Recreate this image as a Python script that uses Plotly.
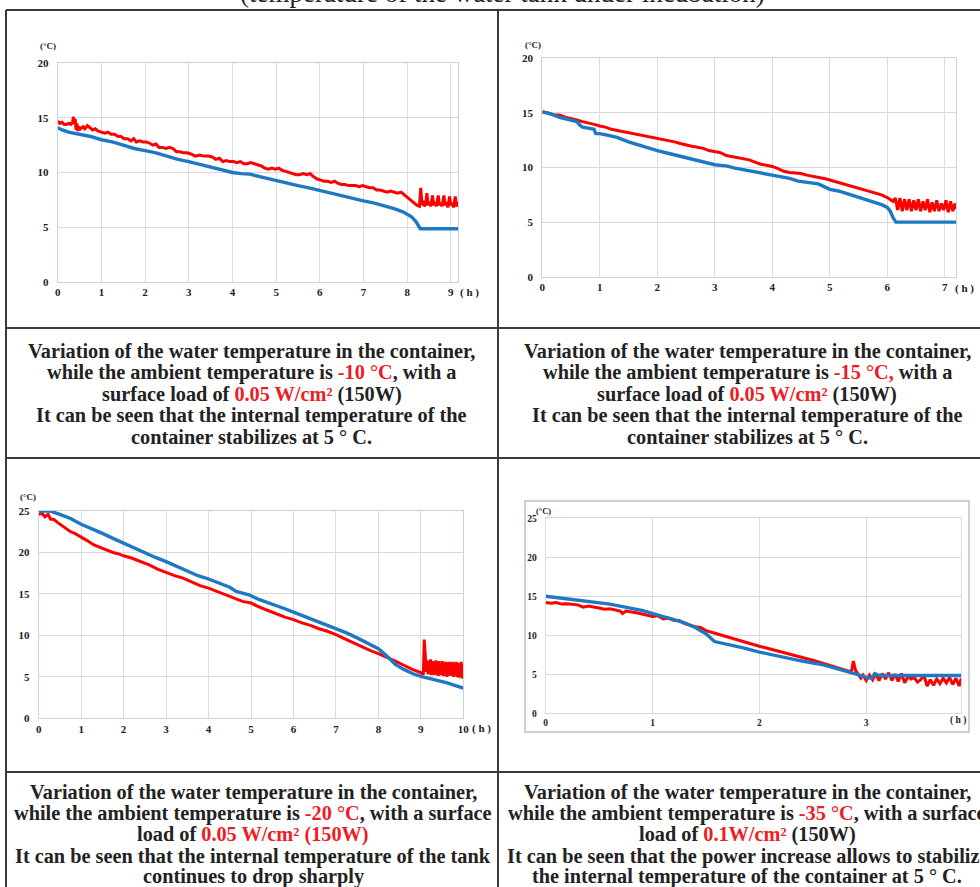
import plotly.graph_objects as go

W, H = 980, 887
RED = "#ff0000"
BLUE = "#1f78c4"
TXT = "#222222"
CAPRED = "#ee1c24"

# ---------------- data ----------------
# Chart 1 : ambient -10 C
c1_red_t = [0.00, 0.05, 0.10, 0.15, 0.20, 0.25, 0.30, 0.34, 0.36, 0.38, 0.40, 0.42, 0.44, 0.46, 0.48,
            0.52, 0.58, 0.62, 0.68, 0.74, 0.80, 0.86, 0.92, 1.00, 1.08, 1.15, 1.22, 1.30, 1.38, 1.45,
            1.52, 1.60, 1.68, 1.74, 1.80, 1.88, 1.95, 2.02, 2.10, 2.18, 2.25, 2.32, 2.40, 2.48, 2.56,
            2.64, 2.72, 2.80, 2.88, 2.96, 3.05, 3.15, 3.25, 3.35, 3.45, 3.55, 3.62, 3.70, 3.78, 3.86,
            3.94, 4.02, 4.10, 4.18, 4.26, 4.34, 4.42, 4.50, 4.58, 4.66, 4.74, 4.82, 4.90, 4.98, 5.06,
            5.14, 5.22, 5.30, 5.38, 5.46, 5.54, 5.62, 5.70, 5.78, 5.86, 5.94, 6.02, 6.10, 6.18, 6.26,
            6.34, 6.42, 6.50, 6.58, 6.66, 6.74, 6.82, 6.90, 6.98, 7.06, 7.14, 7.22, 7.30, 7.38, 7.46,
            7.54, 7.62, 7.70, 7.78, 7.86, 7.92, 7.98, 8.04, 8.10, 8.16, 8.22, 8.28,
            8.31, 8.34, 8.37, 8.40, 8.43, 8.45, 8.48, 8.51, 8.54, 8.58, 8.61, 8.64, 8.67, 8.71, 8.74,
            8.77, 8.80, 8.84, 8.87, 8.90, 8.93, 8.97, 9.00, 9.03, 9.06, 9.10, 9.13, 9.17]
c1_red_v = [14.7, 14.5, 14.6, 14.4, 14.4, 14.5, 14.4, 14.6, 15.1, 14.4, 14.9, 13.9, 14.5, 13.8, 14.2,
            14.0, 14.2, 14.0, 14.3, 14.1, 13.9, 14.0, 13.8, 13.7, 13.6, 13.7, 13.5, 13.5, 13.3, 13.3,
            13.1, 13.1, 12.9, 13.1, 12.8, 12.9, 12.8, 12.8, 12.7, 12.5, 12.6, 12.3, 12.3, 12.2, 12.3,
            12.2, 11.9, 11.9, 11.8, 11.8, 11.7, 11.5, 11.6, 11.5, 11.5, 11.4, 11.2, 11.3, 11.0, 11.1,
            11.0, 11.0, 10.9, 11.0, 10.8, 10.8, 10.9, 10.8, 10.7, 10.6, 10.4, 10.3, 10.4, 10.3, 10.4,
            10.2, 10.1, 10.0, 9.9, 9.8, 9.8, 9.9, 9.8, 9.9, 9.6, 9.4, 9.3, 9.2, 9.2, 9.1,
            9.2, 9.0, 8.9, 8.9, 8.8, 8.8, 8.8, 8.7, 8.8, 8.7, 8.6, 8.6, 8.4, 8.4, 8.3,
            8.2, 8.3, 8.2, 8.1, 8.2, 8.0, 7.8, 7.6, 7.4, 7.2, 7.0, 6.9,
            8.6, 7.0, 7.4, 6.9, 7.2, 8.1, 7.0, 7.3, 6.9, 7.9, 7.0, 7.3, 6.9, 7.9, 7.0,
            7.2, 6.9, 7.9, 7.0, 7.3, 6.8, 7.8, 7.0, 7.2, 6.8, 7.8, 6.9, 7.3]
c1_blue_t = [0.0, 0.1, 0.25, 0.5, 0.75, 1.0, 1.25, 1.5, 1.75, 2.0, 2.25, 2.5, 2.75, 3.0, 3.25, 3.5,
             3.75, 4.0, 4.2, 4.4, 4.6, 4.8, 5.0, 5.25, 5.5, 5.75, 6.0, 6.25, 6.5, 6.75, 7.0, 7.25,
             7.5, 7.7, 7.9, 8.0, 8.1, 8.2, 8.3, 9.17]
c1_blue_v = [14.1, 13.9, 13.7, 13.5, 13.3, 13.0, 12.8, 12.5, 12.2, 12.0, 11.8, 11.5, 11.2, 11.0, 10.75, 10.5,
             10.3, 10.0, 9.9, 9.85, 9.65, 9.45, 9.25, 9.0, 8.8, 8.6, 8.35, 8.1, 7.9, 7.65, 7.4, 7.2,
             6.95, 6.7, 6.4, 6.2, 5.95, 5.5, 4.85, 4.85]

# Chart 2 : ambient -15 C
c2_red_t = [0.0, 0.1, 0.2, 0.3, 0.4, 0.5, 0.6, 0.7, 0.8, 0.9, 1.0, 1.1, 1.2, 1.3, 1.4, 1.5, 1.6, 1.7,
            1.8, 1.9, 2.0, 2.1, 2.2, 2.3, 2.4, 2.5, 2.6, 2.7, 2.8, 2.9, 3.0, 3.1, 3.2, 3.3, 3.4, 3.5,
            3.6, 3.7, 3.8, 3.9, 4.0, 4.1, 4.2, 4.3, 4.4, 4.5, 4.6, 4.7, 4.8, 4.9, 5.0, 5.1, 5.2, 5.3,
            5.4, 5.5, 5.6, 5.7, 5.8, 5.9, 6.0, 6.1,
            6.14, 6.18, 6.22, 6.26, 6.30, 6.34, 6.38, 6.42, 6.46, 6.50, 6.54, 6.58, 6.62, 6.66, 6.70,
            6.74, 6.78, 6.82, 6.86, 6.90, 6.94, 6.98, 7.02, 7.06, 7.10, 7.14, 7.18, 7.20]
c2_red_v = [15.1, 15.0, 14.8, 14.8, 14.6, 14.5, 14.35, 14.2, 14.1, 13.95, 13.8, 13.7, 13.5, 13.4, 13.3,
            13.2, 13.05, 12.95, 12.9, 12.8, 12.65, 12.6, 12.45, 12.35, 12.2, 12.05, 11.95, 11.85, 11.75,
            11.55, 11.45, 11.35, 11.1, 11.0, 10.85, 10.75, 10.7, 10.5, 10.3, 10.2, 10.1, 9.9, 9.65, 9.55,
            9.5, 9.45, 9.3, 9.2, 9.15, 9.0, 8.85, 8.7, 8.6, 8.45, 8.3, 8.15, 8.0, 7.85, 7.7, 7.5, 7.25, 6.9,
            7.2, 6.1, 7.2, 6.0, 7.1, 6.1, 7.1, 6.0, 7.0, 6.1, 7.1, 6.0, 6.9, 6.1, 7.1,
            5.9, 6.8, 6.0, 7.0, 6.0, 6.7, 6.1, 7.0, 5.9, 6.9, 6.0, 6.7, 6.2]
c2_blue_t = [0.0, 0.15, 0.3, 0.45, 0.6, 0.65, 0.7, 0.8, 0.9, 0.93, 1.0, 1.15, 1.3, 1.5, 1.7, 1.85, 2.0,
             2.15, 2.3, 2.45, 2.6, 2.75, 2.9, 3.0, 3.1, 3.2, 3.35, 3.5, 3.65, 3.8, 4.0, 4.15, 4.3, 4.45,
             4.6, 4.8, 4.9, 5.0, 5.15, 5.3, 5.45, 5.6, 5.75, 5.9, 6.0, 6.05, 6.1, 6.15, 7.2]
c2_blue_v = [15.1, 14.9, 14.6, 14.4, 14.2, 13.9, 13.7, 13.6, 13.5, 13.1, 13.1, 12.95, 12.75, 12.35, 12.0,
             11.8, 11.55, 11.35, 11.15, 10.95, 10.75, 10.55, 10.4, 10.25, 10.2, 10.15, 9.95, 9.8, 9.65,
             9.5, 9.3, 9.15, 9.0, 8.75, 8.65, 8.5, 8.25, 8.0, 7.85, 7.6, 7.4, 7.15, 6.85, 6.6, 6.35,
             6.0, 5.4, 5.0, 5.0]

# Chart 3 : ambient -20 C
c3_red_t = [0.0, 0.08, 0.15, 0.22, 0.28, 0.35, 0.45, 0.55, 0.65, 0.75, 0.85, 1.0, 1.15, 1.3, 1.45, 1.6,
            1.75, 1.9, 2.0, 2.2, 2.4, 2.6, 2.8, 3.0, 3.2, 3.4, 3.6, 3.8, 4.0, 4.2, 4.4, 4.6, 4.8, 5.0,
            5.2, 5.4, 5.6, 5.8, 6.0, 6.2, 6.4, 6.6, 6.8, 7.0, 7.2, 7.4, 7.6, 7.8, 8.0, 8.2, 8.4, 8.6,
            8.8, 9.0, 9.06, 9.08, 9.11,
            9.13, 9.15, 9.17, 9.19, 9.21, 9.23, 9.25, 9.27, 9.29, 9.31, 9.33, 9.35, 9.37, 9.39, 9.41,
            9.43, 9.45, 9.47, 9.49, 9.51, 9.53, 9.55, 9.57, 9.59, 9.61, 9.63, 9.65, 9.67, 9.69, 9.71,
            9.73, 9.75, 9.77, 9.79, 9.81, 9.83, 9.85, 9.87, 9.89, 9.91, 9.93, 9.95, 9.97, 9.99, 10.0]
c3_red_v = [24.6, 24.7, 24.3, 24.6, 24.0, 24.0, 23.6, 23.2, 22.8, 22.5, 22.3, 21.9, 21.4, 20.9, 20.6, 20.3,
            20.0, 19.8, 19.6, 19.3, 18.9, 18.5, 18.0, 17.6, 17.2, 16.9, 16.4, 16.0, 15.7, 15.3, 14.9,
            14.5, 14.1, 13.9, 13.4, 13.0, 12.6, 12.2, 11.9, 11.5, 11.2, 10.8, 10.5, 10.1, 9.6, 9.1, 8.6,
            8.2, 7.8, 7.3, 6.9, 6.4, 5.9, 5.5, 5.3, 9.5, 7.0,
            5.6, 7.0, 5.3, 6.9, 5.4, 7.1, 5.2, 6.9, 5.4, 6.8, 5.2, 7.0, 5.3, 6.8, 5.1,
            6.9, 5.3, 6.7, 5.2, 6.9, 5.1, 6.7, 5.3, 6.8, 5.0, 6.7, 5.2, 6.8, 5.1, 6.7,
            5.2, 6.8, 5.0, 6.6, 5.2, 6.8, 5.0, 6.7, 4.9, 6.6, 5.1, 6.8, 4.8, 6.5, 5.2]
c3_blue_t = [0.0, 0.25, 0.5, 0.75, 1.0, 1.25, 1.5, 1.75, 2.0, 2.25, 2.5, 2.75, 3.0, 3.25, 3.5, 3.75, 4.0,
             4.25, 4.5, 4.65, 4.8, 4.95, 5.2, 5.5, 5.75, 6.0, 6.25, 6.5, 6.75, 7.0, 7.25, 7.5, 7.75,
             8.0, 8.2, 8.4, 8.6, 8.8, 9.0, 9.3, 9.6, 10.0]
c3_blue_v = [25.0, 25.0, 24.6, 24.1, 23.4, 22.9, 22.3, 21.7, 21.1, 20.5, 19.9, 19.4, 18.9, 18.3, 17.7,
             17.2, 16.8, 16.3, 15.8, 15.3, 15.1, 14.9, 14.3, 13.8, 13.3, 12.8, 12.3, 11.8, 11.3, 10.9,
             10.3, 9.7, 9.1, 8.4, 7.5, 6.5, 5.9, 5.4, 5.05, 4.7, 4.3, 3.65]

# Chart 4 : ambient -35 C
c4_red_t = [0.0, 0.05, 0.1, 0.15, 0.2, 0.3, 0.35, 0.4, 0.5, 0.55, 0.6, 0.7, 0.72, 0.75, 0.85, 0.95, 1.0,
            1.05, 1.1, 1.15, 1.2, 1.25, 1.3, 1.35, 1.4, 1.45, 1.5, 1.6, 2.0, 2.5, 2.86, 2.88, 2.9, 2.95,
            2.97, 3.0, 3.03, 3.06, 3.09, 3.12, 3.15, 3.18, 3.21, 3.24, 3.27, 3.30, 3.33, 3.36, 3.39,
            3.42, 3.45, 3.48, 3.51, 3.54, 3.57, 3.60, 3.63, 3.66, 3.69, 3.72, 3.75, 3.78, 3.81, 3.84,
            3.87, 3.89]
c4_red_v = [14.2, 14.1, 14.2, 14.0, 14.05, 13.9, 13.6, 13.75, 13.5, 13.35, 13.4, 13.1, 12.8, 13.1, 12.9,
            12.6, 12.4, 12.5, 12.1, 12.2, 11.9, 11.9, 11.5, 11.3, 11.1, 11.0, 10.6, 10.2, 8.6, 6.8, 5.3,
            6.7, 5.5, 4.5,
            4.9, 4.2, 4.9, 4.3, 5.1, 4.2, 5.1, 4.4, 5.2, 4.2, 5.0, 4.1, 5.1, 3.9, 4.7,
            4.4, 4.6, 4.0, 4.3, 4.9, 3.5, 4.3, 3.6, 4.4, 3.8, 4.5, 3.9, 4.6, 3.7, 4.5,
            3.5, 4.5]
c4_blue_t = [0.0, 0.3, 0.6, 0.9, 1.0, 1.1, 1.2, 1.3, 1.4, 1.5, 1.58, 1.7, 1.85, 2.0, 2.2, 2.4, 2.6, 2.8,
             2.9, 3.0, 3.05, 3.08, 3.12, 3.89]
c4_blue_v = [15.0, 14.5, 14.0, 13.2, 12.75, 12.4, 12.0, 11.6, 11.0, 10.2, 9.2, 8.85, 8.4, 7.85, 7.25,
             6.7, 6.2, 5.5, 5.05, 4.6, 4.5, 5.1, 4.85, 4.85]

charts = [
    dict(rt=c1_red_t, rv=c1_red_v, bt=c1_blue_t, bv=c1_blue_v, xr=[0, 9.17], yr=[0, 20],
         xt=list(range(0, 10)), yt=[0, 5, 10, 15, 20], px=(57.7, 458.3), py=(63.3, 281.7), fs=11),
    dict(rt=c2_red_t, rv=c2_red_v, bt=c2_blue_t, bv=c2_blue_v, xr=[0, 7.2], yr=[0, 20],
         xt=list(range(0, 8)), yt=[0, 5, 10, 15, 20], px=(542.3, 956.3), py=(58.3, 276.7), fs=11),
    dict(rt=c3_red_t, rv=c3_red_v, bt=c3_blue_t, bv=c3_blue_v, xr=[0, 10], yr=[0, 25],
         xt=list(range(0, 11)), yt=[0, 5, 10, 15, 20, 25], px=(38.7, 463.3), py=(511.0, 718.3), fs=11),
    dict(rt=c4_red_t, rv=c4_red_v, bt=c4_blue_t, bv=c4_blue_v, xr=[0, 3.89], yr=[0, 25],
         xt=[0, 1, 2, 3], yt=[0, 5, 10, 15, 20, 25], px=(545.7, 961.3), py=(518.3, 713.3), fs=9.5),
]

def fx(p):
    return p / W

def fy(p):
    return 1 - p / H

fig = go.Figure()
layout = dict(width=W, height=H, margin=dict(l=0, r=0, t=0, b=0), showlegend=False,
              paper_bgcolor="white", plot_bgcolor="white", template="none")

for i, c in enumerate(charts):
    n = "" if i == 0 else str(i + 1)
    fig.add_trace(go.Scatter(x=c["rt"], y=c["rv"], mode="lines", line=dict(color=RED, width=3),
                             xaxis="x" + n, yaxis="y" + n, hoverinfo="skip"))
    fig.add_trace(go.Scatter(x=c["bt"], y=c["bv"], mode="lines", line=dict(color=BLUE, width=3.4),
                             xaxis="x" + n, yaxis="y" + n, hoverinfo="skip"))
    border = "#c6d3e6" if i < 3 else "#d9d9d9"
    tf = dict(family="Liberation Serif", size=c["fs"], color=TXT, weight="bold")
    layout["xaxis" + n] = dict(domain=[fx(c["px"][0]), fx(c["px"][1])], range=c["xr"], anchor="y" + n,
                               tickvals=c["xt"], showgrid=True, gridcolor="#d9dde3", gridwidth=1,
                               zeroline=False, showline=True, linecolor=border, linewidth=1, mirror=True,
                               ticks="", tickfont=tf, fixedrange=True)
    layout["yaxis" + n] = dict(domain=[fy(c["py"][1]), fy(c["py"][0])], range=c["yr"], anchor="x" + n,
                               tickvals=c["yt"], showgrid=True, gridcolor="#d9d9d9", gridwidth=1,
                               zeroline=False, showline=True, linecolor=border, linewidth=1, mirror=True,
                               ticks="", tickfont=tf, ticklabelstandoff=6, fixedrange=True)

fig.update_layout(**layout)

shapes = []
LC = "#3a3a3a"
def hline(y, x0, x1):
    shapes.append(dict(type="line", xref="paper", yref="paper", x0=fx(x0), x1=fx(x1), y0=fy(y), y1=fy(y),
                       line=dict(color=LC, width=2)))
def vline(x, y0, y1):
    shapes.append(dict(type="line", xref="paper", yref="paper", x0=fx(x), x1=fx(x), y0=fy(y0), y1=fy(y1),
                       line=dict(color=LC, width=2)))
hline(10, 6, 1000)
hline(328, 6, 1000)
hline(458, 6, 1000)
hline(772, 6, 1000)
vline(6, 10, 900)
vline(498, 10, 900)
# chart-area frame of the 4th chart
shapes.append(dict(type="rect", xref="paper", yref="paper", x0=fx(525), x1=fx(969), y0=fy(732), y1=fy(501),
                   line=dict(color="#c0c0c0", width=1.5), fillcolor="rgba(0,0,0,0)"))
fig.update_layout(shapes=shapes)

ann = []
def text(x, y, s, size, color=TXT, bold=True, family="Liberation Serif", xanchor="center", yanchor="middle"):
    ann.append(dict(x=fx(x), y=fy(y), xref="paper", yref="paper", text=s, showarrow=False,
                    xanchor=xanchor, yanchor=yanchor,
                    font=dict(family=family, size=size, color=color, weight="bold" if bold else "normal")))

# unit labels
for (x, y, s) in [(48, 46, 9), (533, 45, 9), (28, 497, 9), (543, 511, 8.5)]:
    text(x, y, "(°C)", s)
for (x, y, s) in [(469, 292, 11), (964, 288, 11), (481, 728, 11), (958, 720, 9.5)]:
    text(x, y, "( h )", s)

# cut-off heading at the very top
ann.append(dict(x=fx(502), y=fy(10.5), xref="paper", yref="paper", showarrow=False, xanchor="center",
                yanchor="bottom", text="(temperature of the water tank under incubation)",
                font=dict(family="Liberation Serif", size=27, color=TXT)))

def red(s):
    return "<span style='color:%s'>%s</span>" % (CAPRED, s)

captions = [
    (252, [352, 373.5, 395, 416.5, 438], [
        "Variation of the water temperature in the container,",
        "while the ambient temperature is " + red("-10 °C") + ", with a",
        "surface load of " + red("0.05 W/cm²") + " (150W)",
        "It can be seen that the internal temperature of the",
        "container stabilizes at 5 ° C."]),
    (747, [352, 373.5, 395, 416.5, 438], [
        "Variation of the water temperature in the container,",
        "while the ambient temperature is " + red("-15 °C,") + " with a",
        "surface load of " + red("0.05 W/cm²") + " (150W)",
        "It can be seen that the internal temperature of the",
        "container stabilizes at 5 ° C."]),
    (253, [793, 814.5, 835.5, 857, 877.5], [
        "Variation of the water temperature in the container,",
        "while the ambient temperature is " + red("-20 °C") + ", with a surface",
        "load of " + red("0.05 W/cm² (150W)"),
        "It can be seen that the internal temperature of the tank",
        "continues to drop sharply"]),
    (747, [793, 814.5, 835.5, 857, 877.5], [
        "Variation of the water temperature in the container,",
        "while the ambient temperature is " + red("-35 °C") + ", with a surface",
        "load of " + red("0.1W/cm²") + " (150W)",
        "It can be seen that the power increase allows to stabilize",
        "the internal temperature of the container at 5 ° C."]),
]
for cx, ys, lines in captions:
    for y, s in zip(ys, lines):
        text(cx, y - 1, s, 20.3)

fig.update_layout(annotations=ann)
fig.write_html("out.html", config={"displayModeBar": False},
               post_script="document.body.style.margin='0';document.body.style.overflow='hidden';")
